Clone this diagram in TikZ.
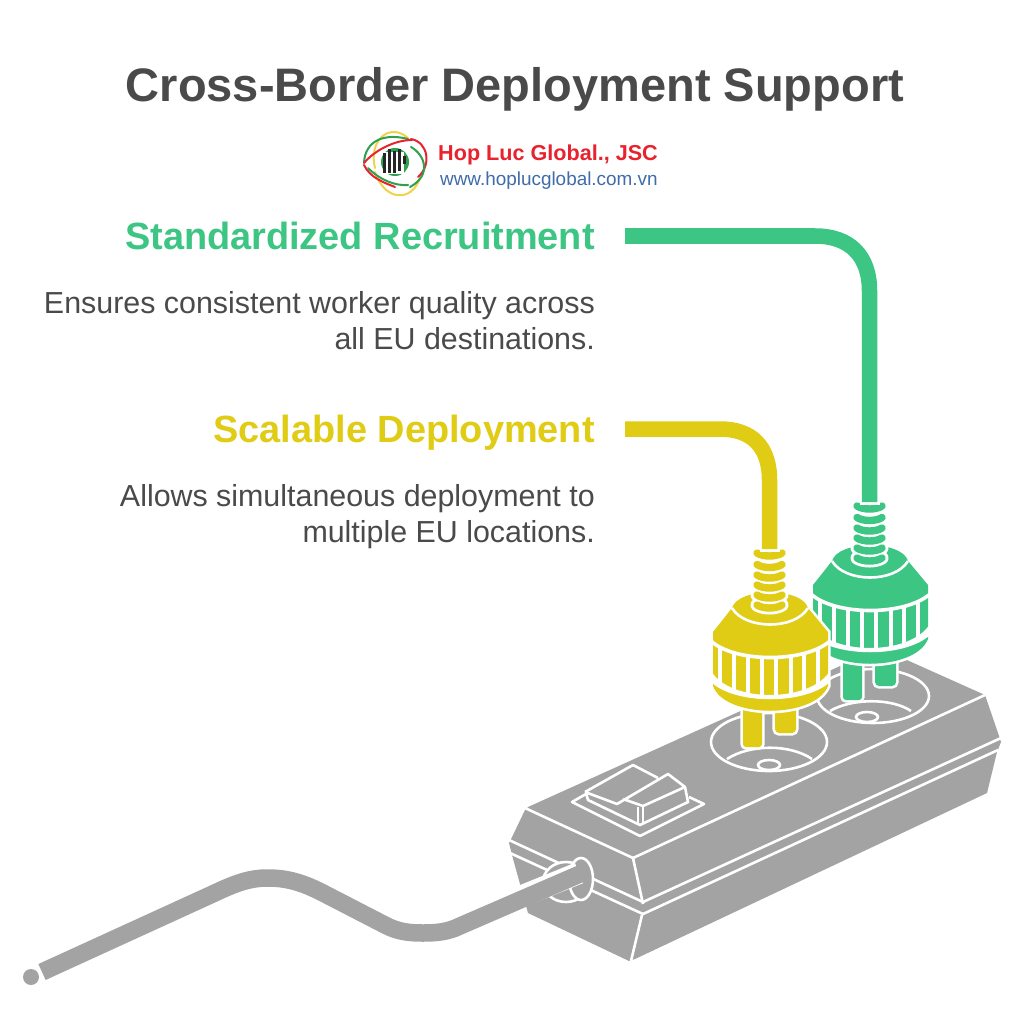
\documentclass[tikz,border=0pt]{standalone}
\usepackage{fontspec}
\setmainfont{Liberation Sans}
\definecolor{grn}{HTML}{3CC583}
\definecolor{ylw}{HTML}{E0CC14}
\definecolor{gry}{HTML}{A3A3A3}
\definecolor{ink}{HTML}{4A4A4A}
\definecolor{lred}{HTML}{E8222E}
\definecolor{lblue}{HTML}{3F6CA8}
\definecolor{lgrn}{HTML}{2FA04E}
\definecolor{lylw}{HTML}{EFD34A}
\tikzset{
 titletext/.style={text=ink,font=\fontsize{47}{50}\selectfont\bfseries,anchor=base,inner sep=0pt},
 headtext/.style={font=\fontsize{37.9}{40}\selectfont\bfseries,anchor=base east,inner sep=0pt},
 bodytext/.style={text=ink,font=\fontsize{30.4}{36}\selectfont,anchor=north east,align=right,inner sep=0pt},
 wl/.style={draw=white,line width=2.6pt},
 halo/.style={preaction={draw=white,line width=5.2pt}},
 cord/.style={line width=15.5pt},
 orbit/.style={line width=2pt,line cap=round},
}
\newcommand{\drawplug}[1]{%
 \path[fill=#1,halo,rounded corners=4pt] (775,700)--(775,733)--(796,733)--(796,700)--cycle;
 \path[fill=#1,halo,rounded corners=3pt] (743,700)--(743,747)--(762,747)--(762,700)--cycle;
 \path[fill=#1,halo] (732,608) .. controls (738,587) and (802,587) .. (808,608) -- (828,632) -- (828,686) .. controls (815,719) and (725,719) .. (713,686) -- (713,632) -- cycle;
 \draw[wl] (732,608) .. controls (745,630) and (795,630) .. (808,608);
 \draw[draw=white,line width=3.6pt] (711,641) .. controls (735,663) and (805,663) .. (830,641);
 \fill[white] (711,671) .. controls (730,703) and (810,703) .. (830,671) -- (830,682) .. controls (805,705) and (735,705) .. (711,682) -- cycle;
 \begin{scope}
  \clip (711,640) .. controls (735,663) and (805,663) .. (830,640) -- (830,675) .. controls (810,704) and (730,704) .. (711,675) -- cycle;
  \foreach \gx in {720,734,748,762,776,791,804,818}{\draw[draw=white,line width=4pt] (\gx,630)--(\gx,710);}
 \end{scope}
 \foreach \gy in {555,566.5,577,587,597,607}{
  \draw[draw=white,line width=13pt,line cap=round] (757,\gy-2) .. controls (763,\gy+2) and (776,\gy+2) .. (782,\gy-2);
 }
 \foreach \gy in {555,566.5,577,587,597,607}{
  \draw[draw=#1,line width=7.4pt,line cap=round] (757,\gy-2) .. controls (763,\gy+2) and (776,\gy+2) .. (782,\gy-2);
 }
}
\begin{document}
\begin{tikzpicture}[x=1pt,y=-1pt]
\useasboundingbox (0,0) rectangle (1024,1024);
\fill[white] (0,0) rectangle (1024,1024);
% texts
\node[titletext] (title) at (515,102) {Cross-Border Deployment Support};
\node[headtext,text=grn] (h1) at (595,249) {Standardized Recruitment};
\node[headtext,text=ylw] (h2) at (595,442) {Scalable Deployment};
\node[bodytext] (b1) at (595,291) {Ensures consistent worker quality across\\all EU destinations.};
\node[bodytext] (b2) at (595,484) {Allows simultaneous deployment to\\multiple EU locations.};
% logo
\node[anchor=west,inner sep=0pt,text=lred,font=\fontsize{21.6}{24}\selectfont\bfseries] (lg1) at (438,155) {Hop Luc Global., JSC};
\node[anchor=west,inner sep=0pt,text=lblue,font=\fontsize{18.9}{20}\selectfont] (lg2) at (440,181) {www.hoplucglobal.com.vn};
\fill[lgrn] (395,162) circle (14pt);
\fill[white] (384,152) rectangle (404,174);
\foreach \bx/\by/\bh in {383/153/20,388/149/24,393/151/22,398/149/22,403/156/8}{\fill[black!85] (\bx,\by) rectangle ++(3,\bh);}
\begin{scope}[orbit]
 \draw[lylw] (375,168) .. controls (368,140) and (390,122) .. (408,138);
 \draw[lylw] (375,172) .. controls (385,202) and (412,202) .. (420,178);
 \draw[lgrn] (364,163) .. controls (365,140) and (385,133) .. (408,139);
 \draw[lred] (364,163) .. controls (375,150) and (395,140) .. (412,140);
 \draw[lred] (411,139) .. controls (428,142) and (432,165) .. (418,177);
 \draw[lred] (364,165) .. controls (370,178) and (385,183) .. (395,187);
 \draw[lgrn] (368,168) .. controls (380,180) and (395,186) .. (408,185);
 \draw[lgrn] (411,147) .. controls (425,155) and (432,175) .. (410,187);
\end{scope}
% power strip
\fill[gry] (880,648)--(985,695)--(998,733)--(1001,742)--(997,752)--(987,793)--(635,959)--(629,961)--(528,913)--(512,855)--(509,843)--(513,835)--(525,810)--(528,807)--cycle;
\draw[wl] (525,808)--(633,858)--(985,695);
\draw[wl] (633,858)--(643,904);
\draw[wl] (509,840)--(643,902)--(1001,738);
\draw[wl] (510,853)--(643,914)--(998,750);
\draw[wl] (642,915)--(631,961);
% switch
\draw[wl,line join=round] (586,794)--(572,802)--(640,836)--(704,804)--(689,797);
\draw[wl,line join=round] (585,792)--(633,765)--(658,778);
\draw[wl,line join=round] (585,792)--(617,804)--(668,774)--(685,787)--(643,806)--(623,799);
\draw[wl] (586,793)--(588,800)--(640,825)--(688,802)--(685,787);
\draw[wl] (638,807)--(638,824);
\draw[wl] (643,806)--(643,823);
% sockets
\draw[wl] (769,742) ellipse [x radius=58pt,y radius=29pt];
\draw[wl] (727,759) .. controls (750,744) and (790,744) .. (812,759);
\draw[wl] (769,765) ellipse [x radius=11pt,y radius=5pt];
\draw[wl] (873,696) ellipse [x radius=56pt,y radius=27pt];
\draw[wl] (830,711) .. controls (852,698) and (892,698) .. (911,711);
\draw[wl] (867,717) ellipse [x radius=11pt,y radius=5pt];
% plugs
\begin{scope}[shift={(100,-47)}]\drawplug{grn}\end{scope}
\drawplug{ylw}
% cables
\draw[draw=white,line width=20pt] (869.5,495)--(869.5,504.5);
\draw[grn,cord] (625,236) -- (815,236) .. controls (850,236) and (869.5,256) .. (869.5,291) -- (869.5,502);
\draw[draw=white,line width=20pt] (769.5,542)--(769.5,551.5);
\draw[ylw,cord] (625,429) -- (720,429) .. controls (752,429) and (769.5,447) .. (769.5,480) -- (769.5,549);
% mains cord
\draw[fill=gry,draw=white,line width=2.6pt] (566,882) ellipse [x radius=23pt,y radius=20pt];
\draw[fill=gry,draw=white,line width=2.6pt] (581,879) ellipse [x radius=12pt,y radius=21pt];
\draw[draw=white,line width=22pt] (500,905)--(579,873);
\draw[gry,line width=17.5pt] (42,972) -- (217,892) .. controls (238,882) and (252,878) .. (267,878) .. controls (282,878) and (298,880) .. (323,893) -- (385,925) .. controls (398,932) and (410,933) .. (423,933) .. controls (436,933) and (448,932) .. (460,926) -- (580,874);
\fill[gry] (31,977) circle (8pt);
\end{tikzpicture}
\end{document}
